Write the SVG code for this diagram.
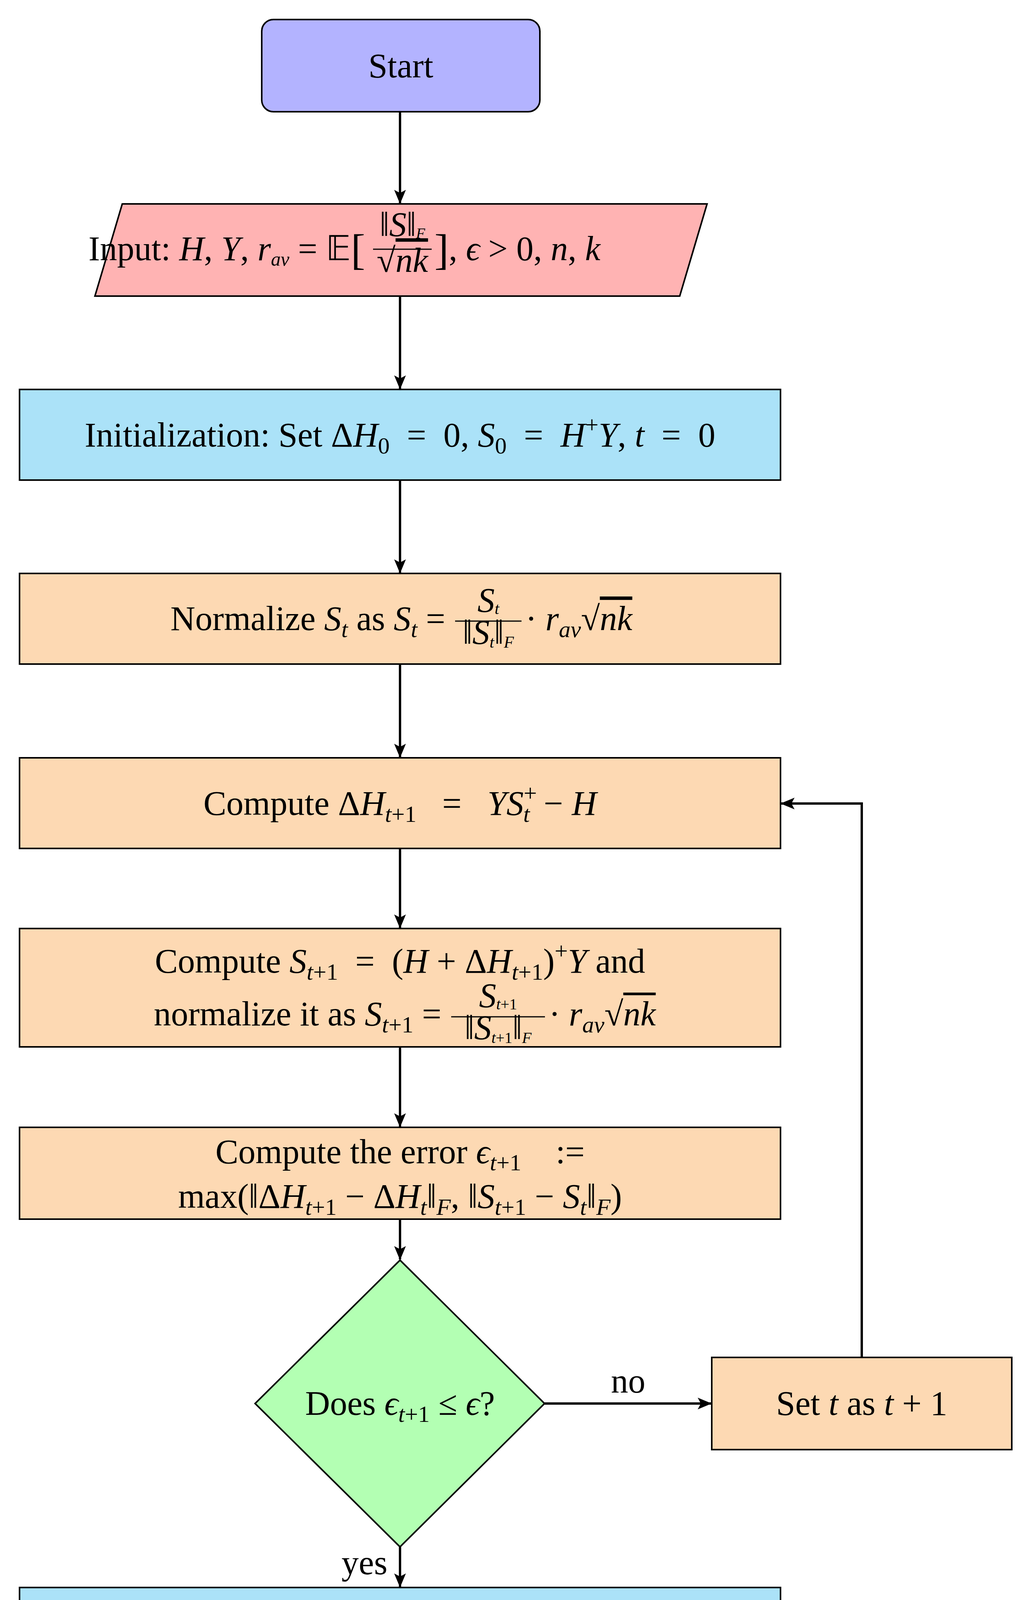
<svg xmlns="http://www.w3.org/2000/svg" width="2629" height="5280" viewBox="0 0 2629 5280">
<style>
.n{stroke:#000;stroke-width:4}
.t{font-family:"Liberation Serif",serif;font-size:88px;fill:#000}
.m{font-style:italic}
.s{font-size:60px}
.c{stroke:#000;stroke-width:6;fill:none}
</style>
<defs>
<marker id="a" markerUnits="userSpaceOnUse" markerWidth="40" markerHeight="40" refX="34" refY="15" orient="auto">
<path d="M0,0 L36,15 L0,30 L8,15 Z" fill="#000"/>
</marker>
</defs>
<rect width="2629" height="5280" fill="#fff"/>
<g id="connectors">
<line class="c" x1="1024" y1="286" x2="1024" y2="520" marker-end="url(#a)"/>
<line class="c" x1="1024" y1="758" x2="1024" y2="995" marker-end="url(#a)"/>
<line class="c" x1="1024" y1="1229" x2="1024" y2="1466" marker-end="url(#a)"/>
<line class="c" x1="1024" y1="1700" x2="1024" y2="1938" marker-end="url(#a)"/>
<line class="c" x1="1024" y1="2172" x2="1024" y2="2375" marker-end="url(#a)"/>
<line class="c" x1="1024" y1="2680" x2="1024" y2="2884" marker-end="url(#a)"/>
<line class="c" x1="1024" y1="3121" x2="1024" y2="3224" marker-end="url(#a)"/>
<line class="c" x1="1024" y1="3960" x2="1024" y2="4062" marker-end="url(#a)"/>
<line class="c" x1="1024" y1="4300" x2="1024" y2="4534" marker-end="url(#a)"/>
<line class="c" x1="1024" y1="4771" x2="1024" y2="5008" marker-end="url(#a)"/>
<line class="c" x1="1394" y1="3593" x2="1820" y2="3593" marker-end="url(#a)"/>
<polyline class="c" points="2206,3475 2206,2057 2000,2057" marker-end="url(#a)"/>
<text class="t" x="1608" y="3565" text-anchor="middle">no</text>
<text class="t" x="933" y="4030" text-anchor="middle">yes</text>
</g>
<g id="start">
<rect class="n" x="670" y="50" width="712" height="236" rx="30" fill="#b3b3ff"/>
<text class="t" x="1026" y="198" text-anchor="middle">Start</text>
</g>
<g id="input">
<polygon class="n" points="313,522 1810,522 1740,758 243,758" fill="#ffb3b3"/>
<text class="t" x="935" y="666" text-anchor="end" font-size="74">Input: <tspan class="m">H</tspan>, <tspan class="m">Y</tspan>, <tspan class="m">r</tspan><tspan class="m" font-size="50" dy="14">av</tspan><tspan dy="-14"> = </tspan>𝔼<tspan font-size="110" dy="10">[</tspan></text>
<text class="t" x="1030" y="604" text-anchor="middle" font-size="54">‖<tspan class="m">S</tspan>‖<tspan font-size="38" class="m" dy="6">F</tspan></text>
<line x1="955" y1="638" x2="1105" y2="638" stroke="#000" stroke-width="3"/>
<text class="t" x="1030" y="696" text-anchor="middle" font-size="54">√<tspan class="m" text-decoration="overline">nk</tspan></text>
<text class="t" x="1112" y="666" font-size="74"><tspan font-size="110" dy="10">]</tspan><tspan dy="-10">, </tspan><tspan class="m">ϵ</tspan> &gt; 0, <tspan class="m">n</tspan>, <tspan class="m">k</tspan></text>
</g>
<g id="init">
<rect class="n" x="50" y="997" width="1948" height="232" fill="#abe2f8"/>
<text class="t" x="1024" y="1143" text-anchor="middle" xml:space="preserve">Initialization: Set Δ<tspan class="m">H</tspan><tspan class="s" dy="18">0</tspan><tspan dy="-18">  =  0, </tspan><tspan class="m">S</tspan><tspan class="s" dy="18">0</tspan><tspan dy="-18">  =  </tspan><tspan class="m">H</tspan><tspan class="s" dy="-36">+</tspan><tspan class="m" dy="36">Y</tspan>, <tspan class="m">t</tspan>  =  0</text>
</g>
<g id="normalize">
<rect class="n" x="50" y="1468" width="1948" height="232" fill="#fdd9b3"/>
<text class="t" x="1140" y="1613" text-anchor="end">Normalize <tspan class="m">S</tspan><tspan class="s m" dy="18">t</tspan><tspan dy="-18"> as </tspan><tspan class="m">S</tspan><tspan class="s m" dy="18">t</tspan><tspan dy="-18"> = </tspan></text>
<text class="t" x="1250" y="1566" text-anchor="middle" font-size="60"><tspan class="m">S</tspan><tspan class="m" font-size="42" dy="6">t</tspan></text>
<line x1="1165" y1="1590" x2="1335" y2="1590" stroke="#000" stroke-width="3"/>
<text class="t" x="1250" y="1648" text-anchor="middle" font-size="60">‖<tspan class="m">S</tspan><tspan class="m" font-size="42" dy="10">t</tspan><tspan dy="-10">‖</tspan><tspan class="m" font-size="42" dy="10">F</tspan></text>
<text class="t" x="1345" y="1613"> · <tspan class="m">r</tspan><tspan class="s m" dy="18">av</tspan><tspan dy="-18">√</tspan><tspan class="m" text-decoration="overline">nk</tspan></text>
</g>
<g id="computeH">
<rect class="n" x="50" y="1940" width="1948" height="232" fill="#fdd9b3"/>
<text class="t" x="1024" y="2086" text-anchor="middle" xml:space="preserve">Compute Δ<tspan class="m">H</tspan><tspan class="s m" dy="18">t</tspan><tspan class="s">+1</tspan><tspan dy="-18">   =   </tspan><tspan class="m">YS</tspan><tspan class="s" dy="-36">+</tspan><tspan class="s m" dx="-35" dy="54">t</tspan><tspan dx="14" dy="-18"> − </tspan><tspan class="m">H</tspan></text>
</g>
<g id="computeS">
<rect class="n" x="50" y="2377" width="1948" height="303" fill="#fdd9b3"/>
<text class="t" x="1024" y="2490" text-anchor="middle" xml:space="preserve">Compute <tspan class="m">S</tspan><tspan class="s m" dy="18">t</tspan><tspan class="s">+1</tspan><tspan dy="-18">  =  (</tspan><tspan class="m">H</tspan> + Δ<tspan class="m">H</tspan><tspan class="s m" dy="18">t</tspan><tspan class="s">+1</tspan><tspan dy="-18">)</tspan><tspan class="s" dy="-36">+</tspan><tspan class="m" dy="36">Y</tspan> and</text>
<text class="t" x="1130" y="2625" text-anchor="end">normalize it as <tspan class="m">S</tspan><tspan class="s m" dy="18">t</tspan><tspan class="s">+1</tspan><tspan dy="-18"> = </tspan></text>
<text class="t" x="1275" y="2578" text-anchor="middle" font-size="56"><tspan class="m">S</tspan><tspan class="m" font-size="40" dy="6">t</tspan><tspan font-size="40">+1</tspan></text>
<line x1="1155" y1="2603" x2="1395" y2="2603" stroke="#000" stroke-width="3"/>
<text class="t" x="1275" y="2660" text-anchor="middle" font-size="56">‖<tspan class="m">S</tspan><tspan class="m" font-size="40" dy="10">t</tspan><tspan font-size="40">+1</tspan><tspan dy="-10">‖</tspan><tspan class="m" font-size="40" dy="10">F</tspan></text>
<text class="t" x="1405" y="2625"> · <tspan class="m">r</tspan><tspan class="s m" dy="18">av</tspan><tspan dy="-18">√</tspan><tspan class="m" text-decoration="overline">nk</tspan></text>
</g>
<g id="error">
<rect class="n" x="50" y="2886" width="1948" height="235" fill="#fdd9b3"/>
<text class="t" x="1024" y="2978" text-anchor="middle" xml:space="preserve">Compute the error <tspan class="m">ϵ</tspan><tspan class="s m" dy="18">t</tspan><tspan class="s">+1</tspan><tspan dy="-18">    :=</tspan></text>
<text class="t" x="1024" y="3092" text-anchor="middle">max(‖Δ<tspan class="m">H</tspan><tspan class="s m" dy="18">t</tspan><tspan class="s">+1</tspan><tspan dy="-18"> − Δ</tspan><tspan class="m">H</tspan><tspan class="s m" dy="18">t</tspan><tspan dy="-18">‖</tspan><tspan class="s m" dy="18">F</tspan><tspan dy="-18">, ‖</tspan><tspan class="m">S</tspan><tspan class="s m" dy="18">t</tspan><tspan class="s">+1</tspan><tspan dy="-18"> − </tspan><tspan class="m">S</tspan><tspan class="s m" dy="18">t</tspan><tspan dy="-18">‖</tspan><tspan class="s m" dy="18">F</tspan><tspan dy="-18">)</tspan></text>
</g>
<g id="decision">
<polygon class="n" points="1024,3226 1394,3593 1024,3960 653,3593" fill="#b3ffb3"/>
<text class="t" x="1024" y="3622" text-anchor="middle">Does <tspan class="m">ϵ</tspan><tspan class="s m" dy="18">t</tspan><tspan class="s">+1</tspan><tspan dy="-18"> ≤ </tspan><tspan class="m">ϵ</tspan>?</text>
</g>
<g id="increment">
<rect class="n" x="1822" y="3475" width="768" height="236" fill="#fdd9b3"/>
<text class="t" x="2206" y="3622" text-anchor="middle">Set <tspan class="m">t</tspan> as <tspan class="m">t</tspan> + 1</text>
</g>
<g id="final">
<rect class="n" x="50" y="4064" width="1948" height="236" fill="#abe2f8"/>
<text class="t" x="1024" y="4160" text-anchor="middle">Finalisation: Set Δ<tspan class="m">H</tspan> as Δ<tspan class="m">H</tspan><tspan class="s m" dy="18">t</tspan><tspan class="s">+1</tspan><tspan dy="-18">. Project</tspan></text>
<text class="t" x="1024" y="4266" text-anchor="middle"><tspan class="m">S</tspan><tspan class="s m" dy="18">t</tspan><tspan class="s">+1</tspan><tspan dy="-18"> onto </tspan><tspan class="m">QAM</tspan><tspan class="s m" dy="-36">n</tspan><tspan class="s">×</tspan><tspan class="s m">k</tspan><tspan dy="36"> and set the result as </tspan><tspan class="m">S</tspan>.</text>
</g>
<g id="output">
<polygon class="n" points="717,4536 1398,4536 1328,4771 647,4771" fill="#ffb3b3"/>
<text class="t" x="1024" y="4684" text-anchor="middle">Output: <tspan class="m">t</tspan>, Δ<tspan class="m">H</tspan>, <tspan class="m">S</tspan></text>
</g>
<g id="stop">
<rect class="n" x="670" y="5010" width="712" height="233" rx="30" fill="#b3b3ff"/>
<text class="t" x="1026" y="5156" text-anchor="middle">Stop</text>
</g>
</svg>
